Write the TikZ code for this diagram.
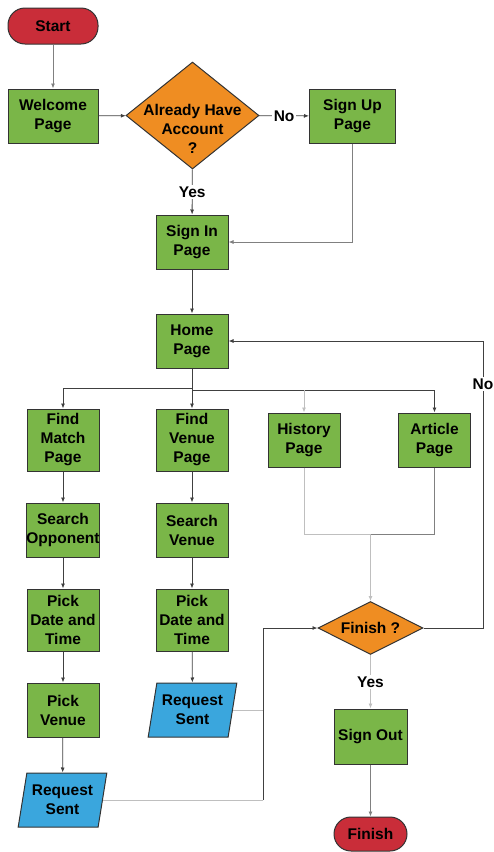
\documentclass[tikz,border=0pt]{standalone}
\usepackage{fontspec}
\setmainfont{Liberation Sans}
\usetikzlibrary{shapes.geometric,arrows.meta}
\definecolor{lgreen}{HTML}{7AB648}
\definecolor{lorange}{HTML}{EF8D22}
\definecolor{lred}{HTML}{C92D39}
\definecolor{lblue}{HTML}{3AA6DD}
\definecolor{edgec}{HTML}{333333}
\begin{document}
\begin{tikzpicture}[x=1pt,y=-1pt,
  every node/.style={font=\fontsize{15.5}{19}\selectfont\bfseries, align=center, inner sep=0pt},
  box/.style={draw=edgec, line width=1pt, fill=lgreen, minimum width=72pt, minimum height=54pt},
  term/.style={draw=edgec, line width=1pt, fill=lred, rounded corners=17pt, minimum width=90pt, minimum height=36pt},
  dec/.style={draw=edgec, line width=1pt, fill=lorange, shape=diamond, inner sep=0pt},
  io/.style={draw=edgec, line width=1pt, fill=lblue, shape=trapezium, trapezium left angle=76, trapezium right angle=104, trapezium stretches=true, minimum width=89pt, minimum height=54pt},
  lbl/.style={fill=white, inner sep=1.5pt},
  dk/.style={draw=black!75, line width=0.8pt},
  md/.style={draw=black!50, line width=0.8pt},
  lt/.style={draw=black!25, line width=0.8pt},
  arr/.style={-{Latex[length=5pt,width=4pt]}}
]
\useasboundingbox (0,0) rectangle (494,852);

% nodes
\node[term] (start) at (53,26) {Start};
\node[box, minimum width=90pt] (wel) at (53,116) {Welcome\\Page};
\node[dec, minimum width=133pt, minimum height=107pt,
      label={[yshift=-13pt, align=center]center:Already Have\\Account\\?}] (acc) at (192.5,115.5) {};
\node[box, minimum width=86pt] (sup) at (352.5,116) {Sign Up\\Page};
\node[box] (sin) at (192,242) {Sign In\\Page};
\node[box] (home) at (192,341) {Home\\Page};
\node[box, minimum height=62pt] (fm) at (63,440) {Find\\Match\\Page};
\node[box, minimum height=62pt] (fv) at (192,440) {Find\\Venue\\Page};
\node[box] (hist) at (304,440) {History\\Page};
\node[box] (art) at (434.5,440) {Article\\Page};
\node[box] (so) at (63,530) {Search\\Opponent};
\node[box] (sv) at (192,530) {Search\\Venue};
\node[box, minimum height=62pt] (pd1) at (63,620) {Pick\\Date and\\Time};
\node[box, minimum height=62pt] (pd2) at (192,620) {Pick\\Date and\\Time};
\node[box] (pv) at (63,710) {Pick\\Venue};
\node[io] (rs2) at (192.5,710) {Request\\Sent};
\node[io] (rs1) at (62.5,800) {Request\\Sent};
\node[dec, minimum width=105pt, minimum height=53pt] (fin) at (370.5,628) {};
\node at (fin.center) {Finish ?};
\node[box, minimum width=73pt, minimum height=55pt] (sout) at (370.5,736.5) {Sign Out};
\node[term, minimum width=73pt, minimum height=34pt] (end) at (370.5,834) {Finish};

\coordinate (lb) at (0,388);
\coordinate (rb) at (0,390);
\coordinate (mg) at (370.5,534);
\coordinate (jx) at (263,0);
\coordinate (nx) at (483,0);

% connectors
\draw[md, arr] (start) -- (wel);
\draw[dk, arr] (wel) -- (acc);
\draw[dk, arr] (acc) -- node[lbl] {No} (sup);
\draw[dk, arr] (acc) -- node[lbl] {Yes} (sin);
\draw[md, arr] (sup.south) |- (sin.east);
\draw[dk, arr] (sin) -- (home);
\draw[dk, arr] (home.south) |- (lb -| fm.north) -- (fm.north);
\draw[dk, arr] (home) -- (fv);
\draw[dk, arr] (home.south) |- (rb -| art.north) -- (art.north);
\draw[lt, arr] (rb -| hist.north) -- (hist.north);
\draw[dk, arr] (fm) -- (so);
\draw[dk, arr] (fv) -- (sv);
\draw[dk, arr] (so) -- (pd1);
\draw[dk, arr] (sv) -- (pd2);
\draw[dk, arr] (pd1) -- (pv);
\draw[dk, arr] (pd2) -- (rs2);
\draw[dk, arr] (pv) -- (rs1);
\draw[lt] (hist.south) |- (mg);
\draw[md] (art.south) |- (mg);
\draw[lt, arr] (mg) -- (fin.north);
\draw[lt] (rs1.east) -- (rs1.east -| jx);
\draw[lt] (rs2.east) -- (rs2.east -| jx);
\draw[dk, arr] (rs1.east -| jx) |- (fin.west);
\draw[dk, arr] (fin.east) -- (fin.east -| nx) -- (nx |- home.east) -- (home.east);
\node[lbl] (nolab) at (483,384) {No};
\draw[lt, arr] (fin) -- node[lbl] {Yes} (sout);
\draw[md, arr] (sout) -- (end);
\end{tikzpicture}
\end{document}
